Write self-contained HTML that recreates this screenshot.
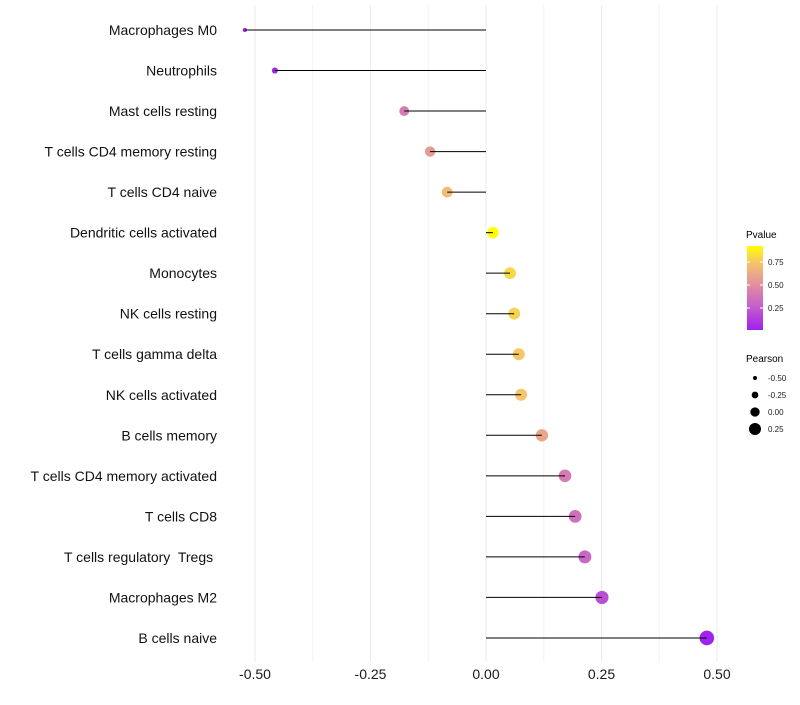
<!DOCTYPE html>
<html><head><meta charset="utf-8"><style>
body{margin:0;background:#fff;font-family:"Liberation Sans",sans-serif}
svg text{white-space:pre}
</style></head><body>
<svg id="chart" width="800" height="700" xmlns="http://www.w3.org/2000/svg">
<defs><linearGradient id="pg" x1="0" y1="1" x2="0" y2="0">
<stop offset="0" stop-color="#a020f0"/><stop offset="0.3" stop-color="#c862c8"/><stop offset="0.55" stop-color="#e2929c"/><stop offset="0.8" stop-color="#f5c46c"/><stop offset="1" stop-color="#ffff00"/></linearGradient></defs>
<g id="grid"></g><g id="marks"></g><g id="labels"></g>
<g id="legend">
<text x="746" y="238" font-size="10" fill="#000">Pvalue</text>
<rect x="747" y="246" width="16" height="84" fill="url(#pg)"/>
<line x1="747" x2="750" y1="262" y2="262" stroke="#fff"/><line x1="760" x2="763" y1="262" y2="262" stroke="#fff"/>
<line x1="747" x2="750" y1="285" y2="285" stroke="#fff"/><line x1="760" x2="763" y1="285" y2="285" stroke="#fff"/>
<line x1="747" x2="750" y1="308" y2="308" stroke="#fff"/><line x1="760" x2="763" y1="308" y2="308" stroke="#fff"/>
<text x="768" y="265" font-size="8" fill="#222">0.75</text>
<text x="768" y="288" font-size="8" fill="#222">0.50</text>
<text x="768" y="311" font-size="8" fill="#222">0.25</text>
<text x="746" y="362" font-size="10" fill="#000">Pearson</text>
<g id="sizeleg"></g>
</g>
</svg>
<script>
const categories=["Macrophages M0","Neutrophils","Mast cells resting","T cells CD4 memory resting","T cells CD4 naive","Dendritic cells activated","Monocytes","NK cells resting","T cells gamma delta","NK cells activated","B cells memory","T cells CD4 memory activated","T cells CD8","T cells regulatory  Tregs ","Macrophages M2","B cells naive"];
const pearson=[-0.522,-0.457,-0.177,-0.121,-0.084,0.015,0.052,0.061,0.071,0.076,0.121,0.171,0.193,0.214,0.251,0.478];
const pvalue=[0.01,0.03,0.4,0.55,0.7,0.92,0.8,0.78,0.75,0.74,0.6,0.4,0.35,0.3,0.2,0.02];
const xTicks=[-0.5,-0.25,0,0.25,0.5];
const xTickLabels=["-0.50","-0.25","0.00","0.25","0.50"];
const sizeLegend=[-0.5,-0.25,0,0.25];
const sizeLegendLabels=["-0.50","-0.25","0.00","0.25"];
const NS="http://www.w3.org/2000/svg";
const xs=v=>486+v*462;
const ys=i=>30+i*40.53;
const rs=v=>1.5+5.8*Math.sqrt(Math.max(0,(v+0.53)/1.01));
const rl=v=>4.67+5.33*v;
const stops=[[0,[160,32,240]],[0.3,[200,98,200]],[0.55,[226,146,156]],[0.8,[245,196,108]],[1,[255,255,0]]];
function col(p){const t=Math.max(0,Math.min(1,(p-0.01)/0.91));for(let i=1;i<stops.length;i++){if(t<=stops[i][0]){const a=stops[i-1],b=stops[i];const f=(t-a[0])/(b[0]-a[0]);const c=a[1].map((v,k)=>Math.round(v+(b[1][k]-v)*f));return `rgb(${c})`;}}return "rgb(255,255,0)";}
function mk(tag,attrs,parent){const e=document.createElementNS(NS,tag);for(const k in attrs)e.setAttribute(k,attrs[k]);parent.appendChild(e);return e;}
const grid=document.getElementById('grid'),marks=document.getElementById('marks'),labels=document.getElementById('labels');
for(let i=0;i<xTicks.length;i++){
 const x=xs(xTicks[i]);
 const g=mk('line',{x1:x,x2:x,y1:5,y2:662,stroke:'#ebebeb','stroke-width':1},grid);
 
 
 if(i<xTicks.length-1){const xm=xs((xTicks[i]+xTicks[i+1])/2);
  const m=mk('line',{x1:xm,x2:xm,y1:5,y2:662,stroke:'#f4f4f4','stroke-width':1},grid);
  
  }
 const t=mk('text',{x:x,y:679,'font-size':14,'text-anchor':'middle',fill:'#1a1a1a'},labels);
 t.textContent=xTickLabels[i];
 
 
}
categories.forEach((c,i)=>{
 const y=ys(i);
 const t=mk('text',{x:217,y:y+5,'font-size':14,'text-anchor':'end',fill:'#111'},labels);
 t.textContent=c;
 
 
 const p=mk('circle',{cx:xs(pearson[i]),cy:y,r:rs(pearson[i]),fill:col(pvalue[i])},marks);
 
 
 const l=mk('line',{x1:xs(0),x2:xs(pearson[i]),y1:y,y2:y,stroke:'#000','stroke-width':1},marks);
 
 
});
const sl=document.getElementById('sizeleg');
sizeLegend.forEach((v,i)=>{
 const y=378+i*17;
 const c=mk('circle',{cx:755,cy:y,r:rl(v),fill:'#000'},sl);
 
 
 const t=mk('text',{x:768,y:y+3,'font-size':8,fill:'#222'},sl);
 t.textContent=sizeLegendLabels[i];
 
 
});
</script>
</body></html>
